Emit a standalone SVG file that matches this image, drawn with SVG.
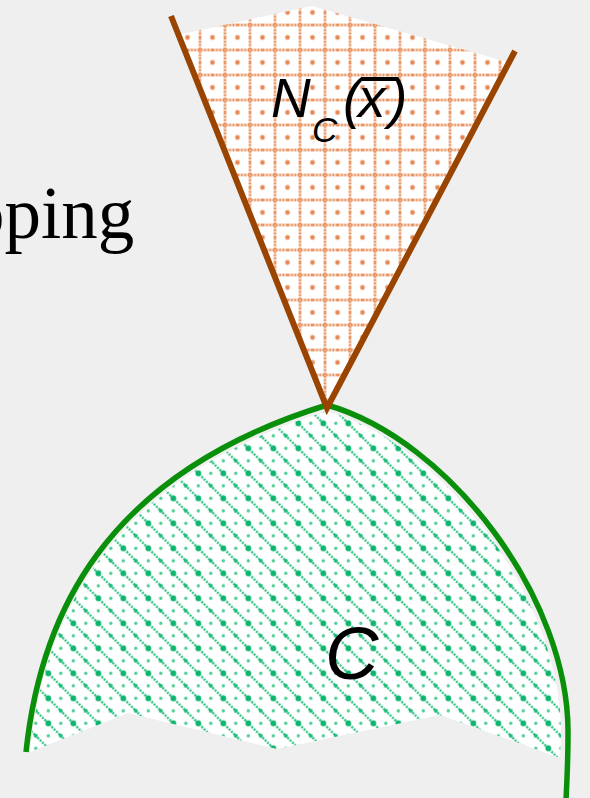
<svg xmlns="http://www.w3.org/2000/svg" width="590" height="798" viewBox="0 0 590 798">
  <style>
    .sans { font-family: "Liberation Sans", Arial, sans-serif; font-style: italic; fill: #000; }
    .serif { font-family: "Liberation Serif", "Times New Roman", serif; fill: #000; }
  </style>
  <defs>
    <pattern id="orangeGrid" width="25" height="25" patternUnits="userSpaceOnUse" x="12.5" y="12.5">
      <rect width="25" height="25" fill="#ffffff"/>
      <line x1="0" y1="12.5" x2="25" y2="12.5" stroke="#e27636" stroke-width="2.4" stroke-dasharray="2.2 1.1" opacity="0.9"/>
      <line x1="12.5" y1="0" x2="12.5" y2="25" stroke="#e27636" stroke-width="2.4" stroke-dasharray="2.2 1.1" opacity="0.9"/>
      <circle cx="0" cy="0" r="2.4" fill="#e2743a" opacity="0.85"/>
      <circle cx="25" cy="0" r="2.4" fill="#e2743a" opacity="0.85"/>
      <circle cx="0" cy="25" r="2.4" fill="#e2743a" opacity="0.85"/>
      <circle cx="25" cy="25" r="2.4" fill="#e2743a" opacity="0.85"/>
    </pattern>
    <pattern id="greenDiag" width="25" height="25" patternUnits="userSpaceOnUse" x="10.8" y="10.8">
      <rect width="25" height="25" fill="#ffffff"/>
      <line x1="-3" y1="-3" x2="28" y2="28" stroke="#22bf7c" stroke-width="2.3" stroke-dasharray="2 1.3"/>
      <circle cx="12.5" cy="12.5" r="2.9" fill="#0db56f"/>
      <circle cx="0" cy="0" r="2" fill="#1dbb78"/>
      <circle cx="25" cy="0" r="2" fill="#1dbb78"/>
      <circle cx="0" cy="25" r="2" fill="#1dbb78"/>
      <circle cx="25" cy="25" r="2" fill="#1dbb78"/>
      <circle cx="0" cy="12.5" r="1.7" fill="#4ccd95"/>
      <circle cx="25" cy="12.5" r="1.7" fill="#4ccd95"/>
      <circle cx="12.5" cy="0" r="1.7" fill="#4ccd95"/>
      <circle cx="12.5" cy="25" r="1.7" fill="#4ccd95"/>
    </pattern>
  </defs>

  <rect id="background" x="0" y="0" width="590" height="798" fill="#efefef"/>

  <g id="caption">
    <text class="serif" x="-32" y="238" font-size="73">pping</text>
  </g>

  <g id="set-C">
    <path d="M30,752 C44,622 104,480 327,411 C447,446 563,602 561,735 L560,758 L440,715 L277,749 L128,713 Z" fill="url(#greenDiag)"/>
    <path d="M26,752 C40,620 100,475 327,405 C450,440 570,600 568,735 C568,760 567,780 566,800" fill="none" stroke="#0a8f0a" stroke-width="5.5"/>
    <text class="sans" x="325" y="679" font-size="74">C</text>
  </g>

  <g id="normal-cone">
    <polygon points="178,35 312,6 507,62 327,408" fill="url(#orangeGrid)"/>
    <polyline points="171,16 327,408 515,51" fill="none" stroke="#994400" stroke-width="6" stroke-linejoin="miter"/>
    <text class="sans" x="271" y="117" font-size="55">N</text>
    <text class="sans" x="312" y="142" font-size="35">C</text>
    <text class="sans" x="343" y="117" font-size="55">(</text>
    <text class="sans" x="358" y="117" font-size="55">x</text>
    <text class="sans" x="389" y="117" font-size="55">)</text>
    <line x1="361" y1="79" x2="396" y2="79" stroke="#000" stroke-width="4"/>
  </g>
</svg>
